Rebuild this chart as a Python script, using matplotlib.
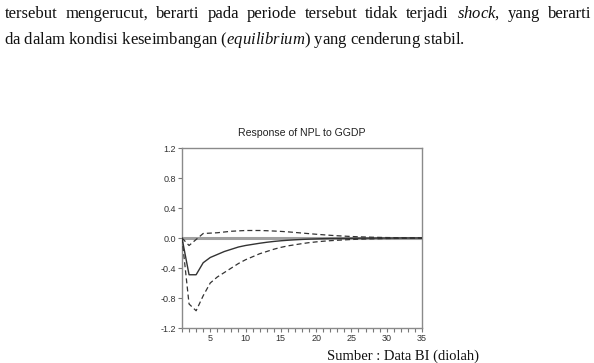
import matplotlib
matplotlib.use("Agg")
import matplotlib.pyplot as plt
from matplotlib.ticker import MultipleLocator

# impulse response of NPL to a GGDP shock, periods 1..35
periods = list(range(1, 36))
response = [0.0, -0.49, -0.49, -0.33, -0.26, -0.22, -0.18, -0.15, -0.12, -0.10,
            -0.085, -0.07, -0.057, -0.046, -0.037, -0.03, -0.024, -0.019, -0.015, -0.012,
            -0.009, -0.007, -0.006, -0.005, -0.004, -0.003, -0.002, -0.002, -0.001, -0.001,
            -0.001, 0.0, 0.0, 0.0, 0.0]
lower = [0.0, -0.88, -0.97, -0.77, -0.6, -0.52, -0.46, -0.4, -0.34, -0.29,
         -0.25, -0.21, -0.18, -0.15, -0.125, -0.105, -0.09, -0.075, -0.062, -0.052,
         -0.043, -0.036, -0.03, -0.025, -0.02, -0.016, -0.013, -0.011, -0.009, -0.007,
         -0.006, -0.005, -0.004, -0.003, -0.003]
upper = [0.0, -0.1, -0.02, 0.06, 0.065, 0.07, 0.08, 0.09, 0.095, 0.1,
         0.1, 0.1, 0.097, 0.093, 0.088, 0.082, 0.074, 0.066, 0.058, 0.05,
         0.043, 0.036, 0.03, 0.025, 0.02, 0.016, 0.013, 0.01, 0.008, 0.006,
         0.005, 0.004, 0.003, 0.003, 0.002]

y_ticks = [1.2, 0.8, 0.4, 0.0, -0.4, -0.8, -1.2]
y_labels = ["1.2", "0.8", "0.4", "0.0", "-0.4", "-0.8", "-1.2"]
x_ticks = [5, 10, 15, 20, 25, 30, 35]

line1 = "tersebut mengerucut, berarti pada periode tersebut tidak terjadi $shock$, yang berarti"
line2 = "da dalam kondisi keseimbangan ($equilibrium$) yang cenderung stabil."
source = "Sumber : Data BI (diolah)"

W, H = 594, 363
fig = plt.figure(figsize=(W / 100, H / 100), dpi=100)
plt.rcParams["mathtext.fontset"] = "custom"
plt.rcParams["mathtext.it"] = "Liberation Serif:italic"
plt.rcParams["mathtext.rm"] = "Liberation Serif"

ax = fig.add_axes([182 / W, 1 - 328 / H, 240 / W, 180 / H])
ax.axhline(0, color="#a0a0a0", lw=2.2, zorder=1)
ax.plot(periods, response, color="#333333", lw=1.0, zorder=3)
ax.plot(periods, lower, color="#333333", lw=0.9, ls=(0, (4, 2.5)), zorder=3)
ax.plot(periods, upper, color="#333333", lw=0.9, ls=(0, (4, 2.5)), zorder=3)

ax.set_xlim(1, 35)
ax.set_ylim(-1.2, 1.2)
ax.set_yticks(y_ticks)
ax.set_yticklabels(y_labels)
ax.set_xticks(x_ticks)
ax.xaxis.set_minor_locator(MultipleLocator(1))
ax.tick_params(axis="both", which="both", direction="out", length=3, width=0.8,
               color="#777777", labelsize=6.5, labelcolor="#333333", pad=1.5)
ax.tick_params(axis="y", which="minor", left=False)
for lab in ax.get_xticklabels() + ax.get_yticklabels():
    lab.set_family("Liberation Sans")
for sp in ax.spines.values():
    sp.set_color("#8a8a8a")
    sp.set_linewidth(1.0)
ax.set_title("Response of NPL to GGDP", fontsize=7.6, family="Liberation Sans",
             color="#222222", pad=9)

# body text around the chart
serif = dict(family="Liberation Serif", fontsize=12, color="#111111")
fig.canvas.draw()
renderer = fig.canvas.get_renderer()
words = line1.split(" ")
widths = []
for w in words:
    t = fig.text(0, 0, w, **serif)
    widths.append(t.get_window_extent(renderer).width)
    t.remove()
x0, x1 = 5, 591
gap = (x1 - x0 - sum(widths)) / (len(words) - 1)
x = x0
for w, wd in zip(words, widths):
    fig.text(x / W, 1 - 18 / H, w, va="baseline", **serif)
    x += wd + gap
fig.text(4 / W, 1 - 44 / H, line2, va="baseline", **serif)
fig.text(327 / W, 1 - 360 / H, source, va="baseline",
         family="Liberation Serif", fontsize=10.5, color="#111111")

fig.savefig("out.png", dpi=100)
